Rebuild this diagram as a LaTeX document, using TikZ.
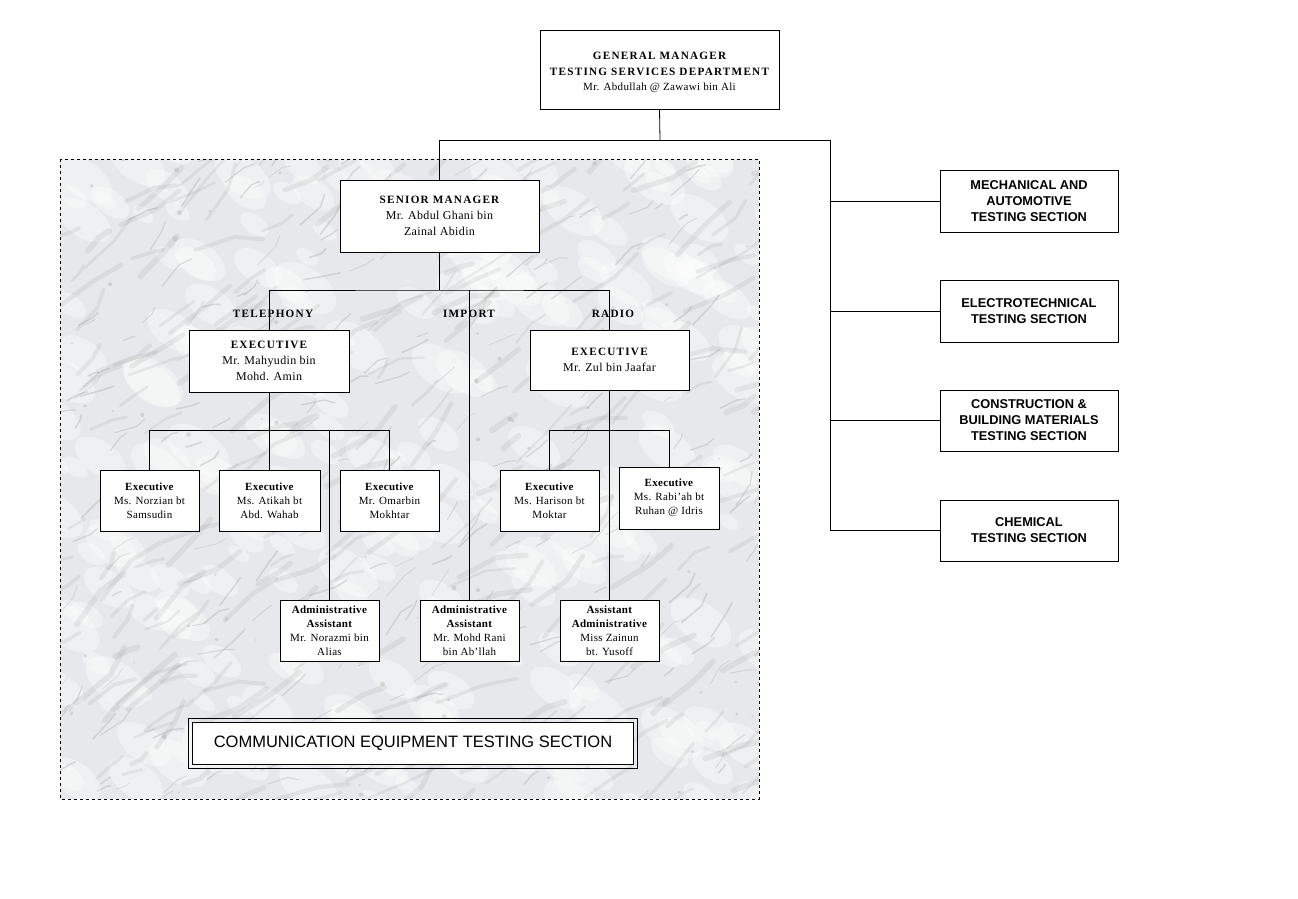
\documentclass[tikz,border=0pt]{standalone}
\usepackage{fontspec}
\setmainfont[LetterSpace=3]{Liberation Serif}
\newfontfamily\capsfont[LetterSpace=11]{Liberation Serif}
\newfontfamily\arialfont{Liberation Sans}
\usetikzlibrary{positioning}
\definecolor{marblebase}{RGB}{231,232,235}
\tikzset{
	post/.style={draw, fill=white, align=center, inner sep=0pt, line width=0.8pt, font=\fontsize{11}{14}\selectfont},
	headbox/.style={post, font=\fontsize{12}{16}\selectfont},
	sectionbox/.style={post, minimum width=178, minimum height=62, font=\arialfont\bfseries\fontsize{12.8}{16}\selectfont},
	staffbox/.style={post, minimum width=99, minimum height=61},
	unitlabel/.style={font=\capsfont\bfseries\fontsize{11.2}{12}\selectfont, inner sep=0pt},
	link/.style={line width=0.8pt}
}
\newcommand{\headline}[1]{{\capsfont\bfseries\fontsize{11.2}{12}\selectfont #1}}
\begin{document}
\begin{tikzpicture}[x=1pt, y=-1pt]
	\useasboundingbox (0,0) rectangle (1298,898);
	% Marble background
	\begin{scope}
		\clip (60,159) rectangle (759,799);
		\fill[marblebase] (60,159) rectangle (759,799);
		\pgfmathsetseed{4242}
		\foreach \i in {1,...,260} {
			\pgfmathsetmacro{\xa}{50+720*rnd}
			\pgfmathsetmacro{\ya}{150+660*rnd}
			\pgfmathsetmacro{\rr}{6+14*rnd}
			\fill[white, opacity=0.35, rotate around={-35:(\xa,\ya)}] (\xa,\ya) ellipse ({1.8*\rr} and {\rr});
		}
		\foreach \i in {1,...,260} {
			\pgfmathsetmacro{\xa}{40+740*rnd}
			\pgfmathsetmacro{\ya}{150+660*rnd}
			\pgfmathsetmacro{\len}{10+40*rnd}
			\pgfmathsetmacro{\ang}{-15-40*rnd}
			\pgfmathsetmacro{\lw}{2+4*rnd}
			\draw[gray, opacity=0.12, line width=\lw pt, line cap=round, line join=round] (\xa,\ya) -- ++(\ang:\len) -- ++(\ang+50*rnd-25:0.7*\len);
		}
		\foreach \i in {1,...,240} {
			\pgfmathsetmacro{\xa}{40+740*rnd}
			\pgfmathsetmacro{\ya}{150+660*rnd}
			\pgfmathsetmacro{\len}{6+22*rnd}
			\pgfmathsetmacro{\ang}{-10-50*rnd}
			\pgfmathsetmacro{\lw}{0.5+1.2*rnd}
			\draw[gray!85, opacity=0.28, line width=\lw pt, line cap=round, line join=round] (\xa,\ya) -- ++(\ang:\len) -- ++(\ang+60*rnd-30:0.5*\len);
		}
		\foreach \i in {1,...,90} {
			\pgfmathsetmacro{\xa}{60+700*rnd}
			\pgfmathsetmacro{\ya}{159+640*rnd}
			\fill[gray!70, opacity=0.35] (\xa,\ya) circle (0.8+1.8*rnd);
		}
	\end{scope}
	\draw[dashed, line width=0.8pt] (60,159) rectangle (759,799);
	% Boxes
	\node[post, minimum width=239, minimum height=79, font=\fontsize{11}{15.5}\selectfont] (gm) at (659.5,69.5)
		{\rule{0pt}{14pt}\headline{GENERAL MANAGER}\\ \headline{TESTING SERVICES DEPARTMENT}\\ Mr. Abdullah @ Zawawi bin Ali};
	\node[headbox, minimum width=199, minimum height=72] (sm) at (439.5,216)
		{\headline{SENIOR MANAGER}\\ Mr. Abdul Ghani bin\\ Zainal Abidin};
	\node[headbox, minimum width=160, minimum height=62] (telexec) at (269,361)
		{\headline{EXECUTIVE}\\ Mr. Mahyudin bin\\ Mohd. Amin};
	\node[headbox, minimum width=159, minimum height=60] (radexec) at (609.5,360)
		{\headline{EXECUTIVE}\\ Mr. Zul bin Jaafar};
	\node[unitlabel] (tel) at (273,314) {TELEPHONY};
	\node[unitlabel] (imp) at (469,314) {IMPORT};
	\node[unitlabel] (rad) at (613,314) {RADIO};
	\node[staffbox] (norzian) at (149.5,500.5) {\textbf{Executive}\\ Ms. Norzian bt\\ Samsudin};
	\node[staffbox, minimum width=101] (atikah) at (269.5,500.5) {\textbf{Executive}\\ Ms. Atikah bt\\ Abd. Wahab};
	\node[staffbox] (omar) at (389.5,500.5) {\textbf{Executive}\\ Mr. Omarbin\\ Mokhtar};
	\node[staffbox] (harison) at (549.5,500.5) {\textbf{Executive}\\ Ms. Harison bt\\ Moktar};
	\node[staffbox, minimum width=100, minimum height=62] (rabiah) at (669,498) {\textbf{Executive}\\ Ms. Rabi’ah bt\\ Ruhan @ Idris};
	\node[staffbox] (norazmi) at (329.5,630.5) {\textbf{Administrative}\\ \textbf{Assistant}\\ Mr. Norazmi bin\\ Alias};
	\node[staffbox] (mohdrani) at (469.5,630.5) {\textbf{Administrative}\\ \textbf{Assistant}\\ Mr. Mohd Rani\\ bin Ab’llah};
	\node[staffbox] (zainun) at (609.5,630.5) {\textbf{Assistant}\\ \textbf{Administrative}\\ Miss Zainun\\ bt. Yusoff};
	\node[sectionbox] (mech) at (1029,201) {MECHANICAL AND\\ AUTOMOTIVE\\ TESTING SECTION};
	\node[sectionbox] (electro) at (1029,311) {ELECTROTECHNICAL\\ TESTING SECTION};
	\node[sectionbox, minimum height=61] (constr) at (1029,420.5) {CONSTRUCTION \&\\ BUILDING MATERIALS\\ TESTING SECTION};
	\node[sectionbox, minimum height=61] (chem) at (1029,530.5) {CHEMICAL\\ TESTING SECTION};
	\node[draw, fill=white, line width=1.6pt, minimum width=441, minimum height=42,
		inner sep=0pt, font=\arialfont\fontsize{16.5}{18}\selectfont] (title) at (413,743.5)
		{COMMUNICATION EQUIPMENT TESTING SECTION};
	\draw[line width=0.8pt] ([shift={(-3,-3)}]title.north west) rectangle ([shift={(3,3)}]title.south east);
	% Links
	\coordinate (gmj) at (660,140);
	\coordinate (secj) at (830,140);
	\coordinate (smj) at (439.5,290);
	\coordinate (telj) at (269,430);
	\coordinate (radj) at (609.5,430);
	\draw[link] (gm.south) -- (gmj);
	\draw[link] (sm.north) |- (secj) |- (chem.west);
	\foreach \s in {mech, electro, constr}
		\draw[link] (\s.west) -- (\s.west -| secj);
	\draw[link] (sm.south) -- (smj);
	\draw[link] (telexec.north) |- (smj) -| (radexec.north);
	\draw[link] (mohdrani.north) -- (mohdrani.north |- smj);
	\draw[link] (telexec.south) -- (telj);
	\draw[link] (norzian.north) |- (telj) -| (omar.north);
	\draw[link] (atikah.north) -- (atikah.north |- telj);
	\draw[link] (norazmi.north) -- (norazmi.north |- telj);
	\draw[link] (radexec.south) -- (zainun.north);
	\draw[link] (harison.north) |- (radj) -| (rabiah.north);
\end{tikzpicture}
\end{document}
